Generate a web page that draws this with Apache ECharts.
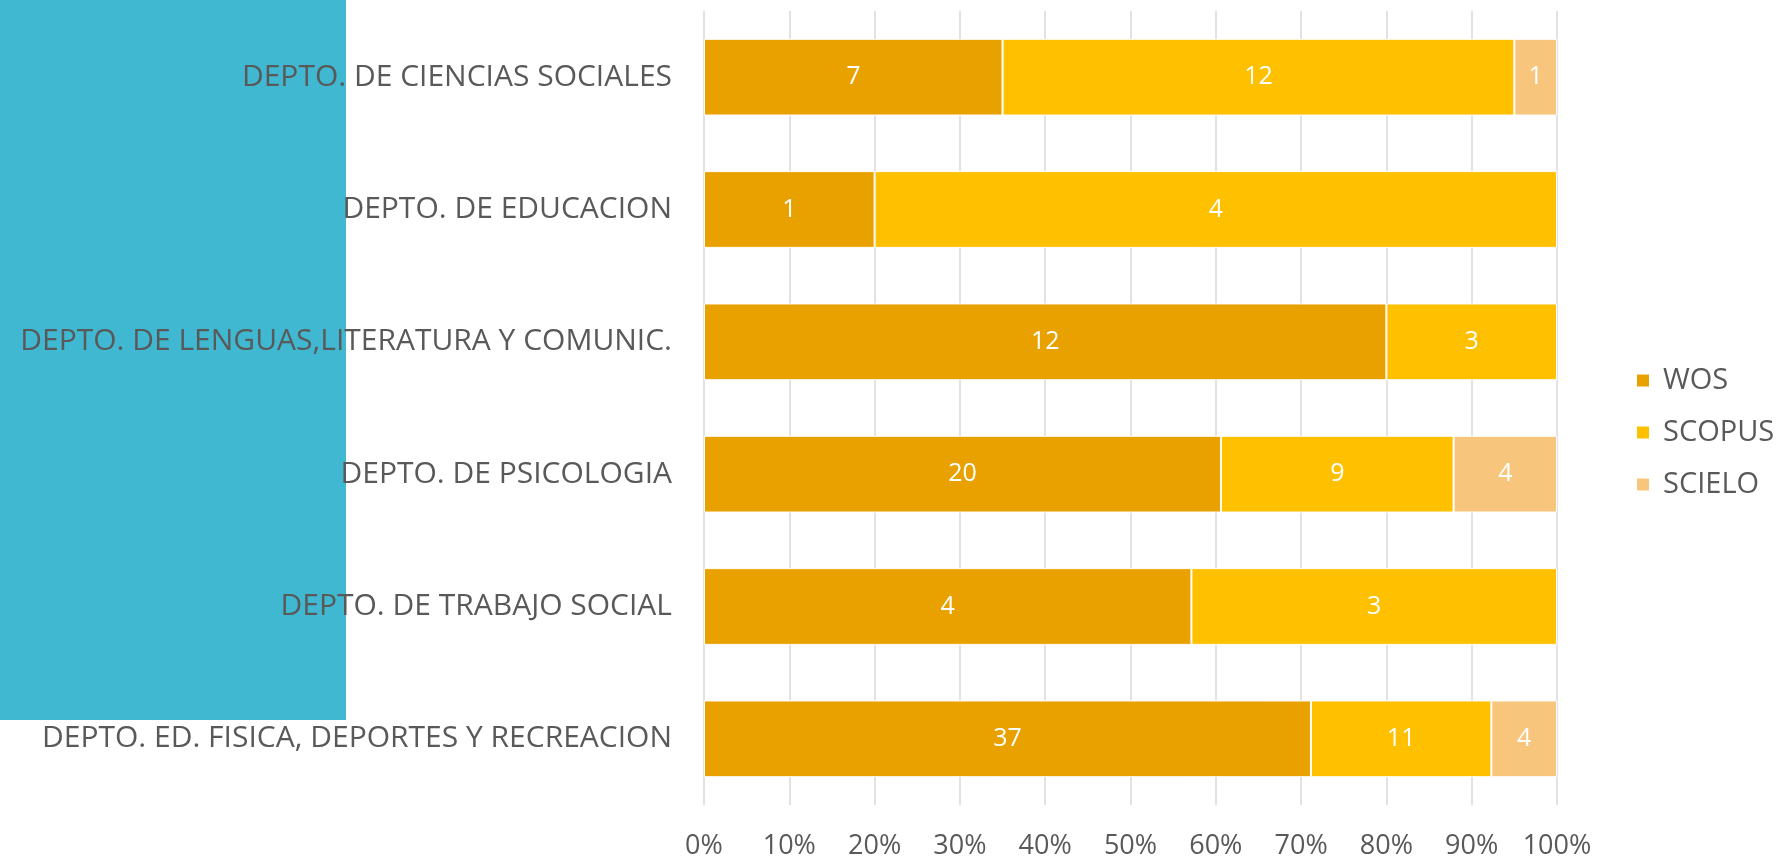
<!DOCTYPE html>
<html lang="es">
<head>
<meta charset="UTF-8">
<title>Publicaciones por departamento</title>
<script src="https://cdn.jsdelivr.net/npm/echarts@6/dist/echarts.min.js"></script>
<style>
  html, body { margin: 0; padding: 0; background: #fff; }
</style>
</head>
<body>
<div id="main" style="width: 1783px;height:862px;"></div>
<script type="text/javascript">
// departments, top to bottom
const departments = [
  'DEPTO. DE CIENCIAS SOCIALES',
  'DEPTO. DE EDUCACION',
  'DEPTO. DE LENGUAS,LITERATURA Y COMUNIC.',
  'DEPTO. DE PSICOLOGIA',
  'DEPTO. DE TRABAJO SOCIAL',
  'DEPTO. ED. FISICA, DEPORTES Y RECREACION'
];
// publication counts per index
const wos    = [7, 1, 12, 20, 4, 37];
const scopus = [12, 4, 3, 9, 3, 11];
const scielo = [1, 0, 0, 4, 0, 4];
const tickLabels = ['0%', '10%', '20%', '30%', '40%', '50%', '60%', '70%', '80%', '90%', '100%'];

const seriesNames = ['WOS', 'SCOPUS', 'SCIELO'];
const seriesColors = ['#E9A100', '#FFC000', '#F8C57D'];
const counts = [wos, scopus, scielo];

const totals = departments.map((d, i) => wos[i] + scopus[i] + scielo[i]);

const FONT = '"Open Sans", sans-serif';

// percent stacked: bar length is share of total, label is the raw count
const series = counts.map((arr, s) => ({
  name: seriesNames[s],
  type: 'bar',
  stack: 'total',
  barWidth: '58%',
  itemStyle: { color: seriesColors[s], borderColor: '#fff', borderWidth: 1 },
  label: {
    show: true,
    position: 'inside',
    color: '#fff',
    fontFamily: FONT,
    fontSize: 25,
    formatter: p => (arr[p.dataIndex] > 0 ? arr[p.dataIndex] : '')
  },
  data: arr.map((v, i) => (v > 0 ? v / totals[i] * 100 : null))
}));

let option = {
  backgroundColor: '#fff',
  animation: false,
  graphic: [{
    type: 'rect',
    z: -10,
    shape: { x: 0, y: 0, width: 346, height: 720 },
    style: { fill: '#40B8D2' }
  }],
  legend: {
    orient: 'vertical',
    left: 1630,
    top: 361,
    itemWidth: 14,
    itemHeight: 14,
    itemGap: 23,
    icon: 'rect',
    data: seriesNames,
    textStyle: { fontFamily: FONT, fontSize: 29, color: '#595959', padding: [0, 0, 0, 8] }
  },
  grid: { left: 704, right: 226, top: 11, bottom: 57, containLabel: false },
  xAxis: {
    type: 'value',
    min: 0,
    max: 100,
    interval: 10,
    axisLine: { show: false },
    axisTick: { show: false },
    splitLine: { show: true, lineStyle: { color: '#D9D9D9', width: 1.5 } },
    axisLabel: {
      margin: 28,
      fontFamily: FONT,
      fontSize: 27,
      color: '#595959',
      formatter: v => tickLabels[Math.round(v / 10)]
    }
  },
  yAxis: {
    type: 'category',
    inverse: true,
    data: departments,
    axisLine: { show: false },
    axisTick: { show: false },
    axisLabel: { margin: 32, fontFamily: FONT, fontSize: 30, color: '#595959' }
  },
  series: series
};

let myChart = echarts.init(document.getElementById('main'));
myChart.setOption(option);
</script>
</body>
</html>
